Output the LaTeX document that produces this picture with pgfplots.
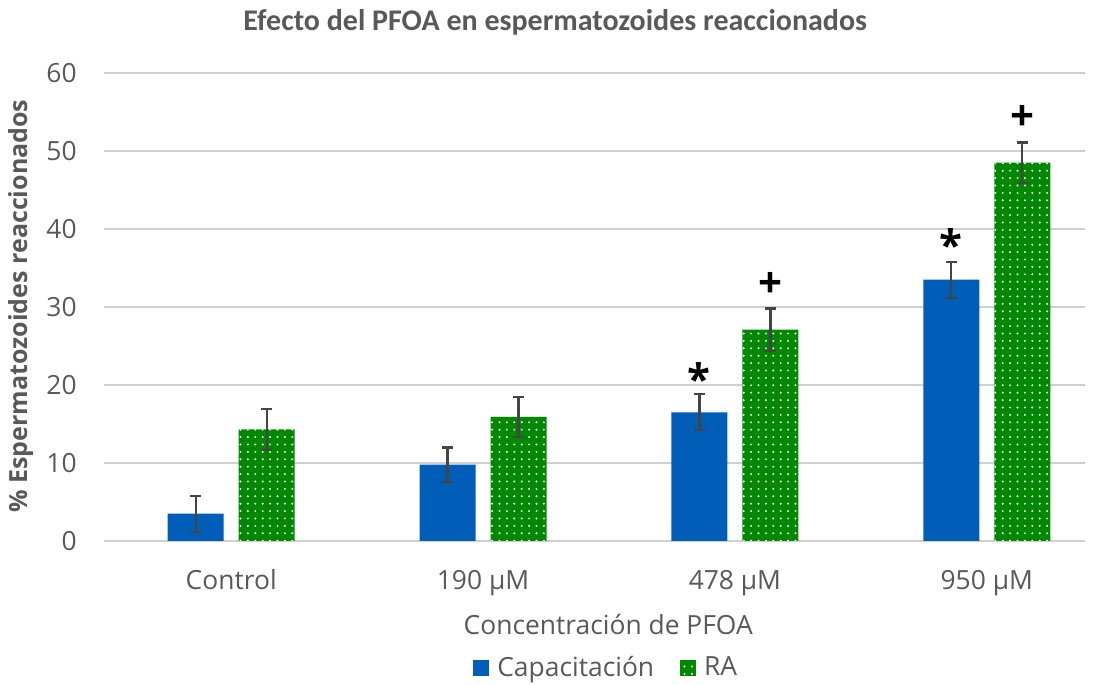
\documentclass[border=0pt]{standalone}
\usepackage{pgfplots}
\pgfplotsset{compat=1.18}
\usepackage{fontspec}
\setmainfont{Open Sans}
\newfontfamily\titlefont{Carlito}
\usetikzlibrary{patterns}
\definecolor{capblue}{HTML}{005EB8}
\definecolor{ragreen}{HTML}{008800}
\definecolor{txtgray}{HTML}{595959}
\definecolor{gridgray}{HTML}{D0D0D0}
\definecolor{errgray}{HTML}{454545}
\pgfdeclarepatternformonly{wdots}{\pgfpoint{-0.5pt}{-0.5pt}}{\pgfpoint{4.2pt}{4.2pt}}{\pgfpoint{3.7pt}{3.7pt}}{\pgfpathcircle{\pgfpoint{1.85pt}{1.85pt}}{0.55pt}\pgfusepath{fill}}
\pgfplotstableread{
x y err
0 3.5 2.3
1 9.8 2.2
2 16.5 2.3
3 33.5 2.3
}\captable
\pgfplotstableread{
x y err
0 14.3 2.6
1 15.9 2.6
2 27.1 2.7
3 48.5 2.6
}\ratable
\begin{document}
\begin{tikzpicture}
\begin{axis}[
  scale only axis,
  width=490.5pt, height=234pt,
  ymin=0, ymax=60,
  xmin=-0.505, xmax=3.39,
  ytick={0,10,...,60},
  xtick={0,1,2,3},
  xticklabels={Control,190 µM,478 µM,950 µM},
  ymajorgrids,
  grid style={gridgray, line width=1pt},
  axis x line*=bottom,
  axis y line*=left,
  y axis line style={draw=none},
  x axis line style={gridgray, line width=1pt, -},
  major tick length=0pt,
  tick style={draw=none},
  /pgf/number format/assume math mode=true,
  ticklabel style={font=\fontsize{13.2}{15}\selectfont, text=txtgray},
  xticklabel style={anchor=base, yshift=-24pt},
  yticklabel style={anchor=east, inner sep=0pt, xshift=-13.5pt},
  ylabel={\% Espermatozoides reaccionados},
  ylabel style={at={(rel axis cs:-0.085,0.502)}, anchor=center, font=\bfseries\fontsize{12.5}{14}\selectfont, text=txtgray},
  xlabel={Concentración de PFOA},
  xlabel style={at={(rel axis cs:0.514,-0.179)}, anchor=center, font=\fontsize{13.2}{15}\selectfont, text=txtgray},
  ybar, bar width=28pt,
  legend columns=2,
  legend style={at={(rel axis cs:0.513,-0.271)}, anchor=center, draw=none, font=\fontsize{13.2}{15}\selectfont, text=txtgray, /tikz/every even column/.append style={column sep=11pt}, /tikz/every odd column/.append style={column sep=2pt}},
  legend image code/.code={\path[#1, draw=none] (0pt,-4pt) rectangle (8pt,4pt);},
  error bars/y dir=both, error bars/y explicit,
  error bars/error bar style={errgray, line width=1.1pt},
  error bars/error mark options={errgray, rotate=90, mark size=2.75pt, line width=1.1pt},
]
\addplot[fill=capblue, draw=none, bar shift=-17.75pt] table[x=x, y=y, y error=err] {\captable};
\addlegendentry{Capacitación}
\addplot[fill=ragreen, draw=none, bar shift=17.75pt, postaction={pattern=wdots, pattern color=white}] table[x=x, y=y, y error=err] {\ratable};
\addlegendentry{RA}
\node[font=\bfseries\fontsize{21}{21}\selectfont] at (axis cs:1.859,20.8) {*};
\node[font=\bfseries\fontsize{21}{21}\selectfont] at (axis cs:2.859,38.0) {*};
\node[font=\bfseries\fontsize{21}{21}\selectfont] at (axis cs:2.141,32.8) {+};
\node[font=\bfseries\fontsize{21}{21}\selectfont] at (axis cs:3.141,54.2) {+};
\coordinate (tt) at (rel axis cs:0.46,1.109);
\coordinate (bl) at (rel axis cs:0,0);
\coordinate (tr) at (rel axis cs:1,1);
\end{axis}
\node[font=\titlefont\bfseries\fontsize{15}{17}\selectfont, text=txtgray] at (tt) {Efecto del PFOA en espermatozoides reaccionados};
\pgfresetboundingbox
\path[use as bounding box] ([xshift=-52pt,yshift=-72pt]bl) rectangle ([xshift=12pt,yshift=36.5pt]tr);
\end{tikzpicture}
\end{document}
